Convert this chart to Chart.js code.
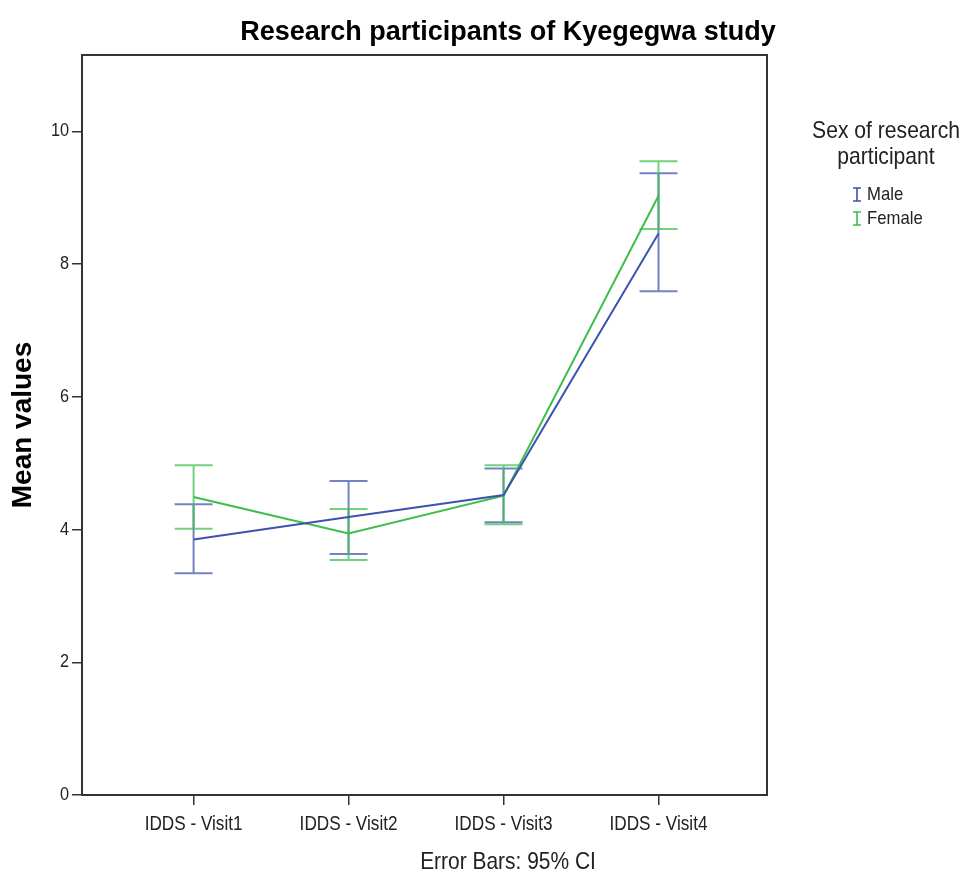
<!DOCTYPE html>
<html>
<head>
<meta charset="utf-8">
<script src="https://cdn.jsdelivr.net/npm/chart.js@4/dist/chart.umd.min.js"></script>
<style>
  html, body { margin: 0; padding: 0; background: #fff; }
  #wrap { width: 966px; height: 874px; }
</style>
</head>
<body>
<div id="wrap"><canvas id="c" width="966" height="874"></canvas></div>
<script>
// Visits on the x axis
const visits = ['IDDS - Visit1', 'IDDS - Visit2', 'IDDS - Visit3', 'IDDS - Visit4'];

// Mean IDDS and 95% CI bounds, male participants
const maleMean = [3.85, 4.19, 4.52, 8.46];
const maleLow  = [3.34, 3.63, 4.11, 7.59];
const maleHigh = [4.38, 4.73, 4.92, 9.37];

// Mean IDDS and 95% CI bounds, female participants
const femaleMean = [4.49, 3.94, 4.51, 9.03];
const femaleLow  = [4.01, 3.54, 4.08, 8.53];
const femaleHigh = [4.97, 4.31, 4.97, 9.55];

// Value axis ticks
const yTicks = [0, 2, 4, 6, 8, 10];

const BLUE = '#3e52b0';
const GREEN = '#3cbf4a';
const BLUE_BAR = 'rgba(62,82,176,0.72)';
const GREEN_BAR = 'rgba(60,191,74,0.72)';
const AXIS = '#333333';
const SANS = '"Liberation Sans", Arial, sans-serif';
const SQUEEZE = 0.88; // horizontal squeeze for the light label face

const series = [
  { label: 'Male', mean: maleMean, low: maleLow, high: maleHigh, color: BLUE, bar: BLUE_BAR },
  { label: 'Female', mean: femaleMean, low: femaleLow, high: femaleHigh, color: GREEN, bar: GREEN_BAR }
];

// draws condensed text anchored at (x, y)
function narrowText(ctx, text, x, y, size, align) {
  ctx.save();
  ctx.font = size + 'px ' + SANS;
  ctx.textAlign = align;
  ctx.textBaseline = 'middle';
  ctx.translate(x, y);
  ctx.scale(SQUEEZE, 1);
  ctx.fillText(text, 0, 0);
  ctx.restore();
}

// 95% CI whiskers, plotted through the chart scales
const errorBars = {
  id: 'errorBars',
  beforeDatasetsDraw(chart) {
    const { ctx, scales: { x, y } } = chart;
    const half = 19;
    ctx.save();
    ctx.lineWidth = 2;
    series.forEach(s => {
      ctx.strokeStyle = s.bar;
      s.mean.forEach((_, i) => {
        const px = x.getPixelForValue(i);
        const yl = y.getPixelForValue(s.low[i]);
        const yh = y.getPixelForValue(s.high[i]);
        ctx.beginPath();
        ctx.moveTo(px, yl); ctx.lineTo(px, yh);
        ctx.moveTo(px - half, yl); ctx.lineTo(px + half, yl);
        ctx.moveTo(px - half, yh); ctx.lineTo(px + half, yh);
        ctx.stroke();
      });
    });
    ctx.restore();
  }
};

// Plot frame, tick labels, title, legend and footnote
const decorations = {
  id: 'decorations',
  afterDraw(chart) {
    const { ctx, chartArea: a, scales: { x, y } } = chart;
    ctx.save();
    ctx.strokeStyle = AXIS;
    ctx.lineWidth = 2;
    ctx.strokeRect(a.left, a.top, a.right - a.left, a.bottom - a.top);

    ctx.fillStyle = '#222';
    x.ticks.forEach(t => narrowText(ctx, visits[t.value], x.getPixelForValue(t.value), a.bottom + 30, 19.5, 'center'));
    y.ticks.forEach(t => narrowText(ctx, String(t.value), a.left - 13, y.getPixelForValue(t.value), 18.5, 'right'));

    ctx.fillStyle = '#000';
    ctx.textAlign = 'center';
    ctx.textBaseline = 'middle';
    ctx.font = 'bold 27px ' + SANS;
    ctx.fillText('Research participants of Kyegegwa study', 508, 33);

    ctx.fillStyle = '#222';
    narrowText(ctx, 'Sex of research', 886, 131, 24, 'center');
    narrowText(ctx, 'participant', 886, 157, 24, 'center');

    series.forEach((s, i) => {
      const cy = 195 + i * 24;
      const ix = 857;
      ctx.strokeStyle = s.color;
      ctx.lineWidth = 1.6;
      ctx.beginPath();
      ctx.moveTo(ix, cy - 7); ctx.lineTo(ix, cy + 6);
      ctx.moveTo(ix - 4, cy - 7); ctx.lineTo(ix + 4, cy - 7);
      ctx.moveTo(ix - 4, cy + 6); ctx.lineTo(ix + 4, cy + 6);
      ctx.stroke();
      ctx.fillStyle = '#222';
      narrowText(ctx, s.label, 867, cy, 19, 'left');
    });

    narrowText(ctx, 'Error Bars: 95% CI', 508, 862, 23.8, 'center');
    ctx.restore();
  }
};

new Chart(document.getElementById('c'), {
  type: 'line',
  data: {
    datasets: series.map(s => ({
      label: s.label,
      data: s.mean.map((v, i) => ({ x: i, y: v })),
      borderColor: s.color,
      backgroundColor: s.color,
      borderWidth: 2,
      pointRadius: 0,
      tension: 0
    }))
  },
  options: {
    responsive: false,
    animation: false,
    layout: { padding: { top: 55, right: 199, left: 0, bottom: 0 } },
    plugins: { legend: { display: false }, title: { display: false }, tooltip: { enabled: false } },
    scales: {
      x: {
        type: 'linear',
        min: -0.72,
        max: 3.70,
        afterBuildTicks: sc => { sc.ticks = visits.map((_, i) => ({ value: i })); },
        afterFit: sc => { sc.height = 79; },
        border: { display: false },
        grid: { drawOnChartArea: false, drawTicks: true, tickLength: 10, color: AXIS, lineWidth: 1.5 },
        ticks: { display: false }
      },
      y: {
        min: 0,
        max: 11.15,
        afterBuildTicks: sc => { sc.ticks = yTicks.map(v => ({ value: v })); },
        afterFit: sc => { sc.width = 82; },
        border: { display: false },
        grid: { drawOnChartArea: false, drawTicks: true, tickLength: 10, color: AXIS, lineWidth: 1.5 },
        ticks: { display: false },
        title: {
          display: true,
          text: 'Mean values',
          color: '#000',
          font: { family: SANS, size: 28, weight: 'bold' },
          padding: { top: 6, bottom: 0 }
        }
      }
    }
  },
  plugins: [errorBars, decorations]
});
</script>
</body>
</html>
